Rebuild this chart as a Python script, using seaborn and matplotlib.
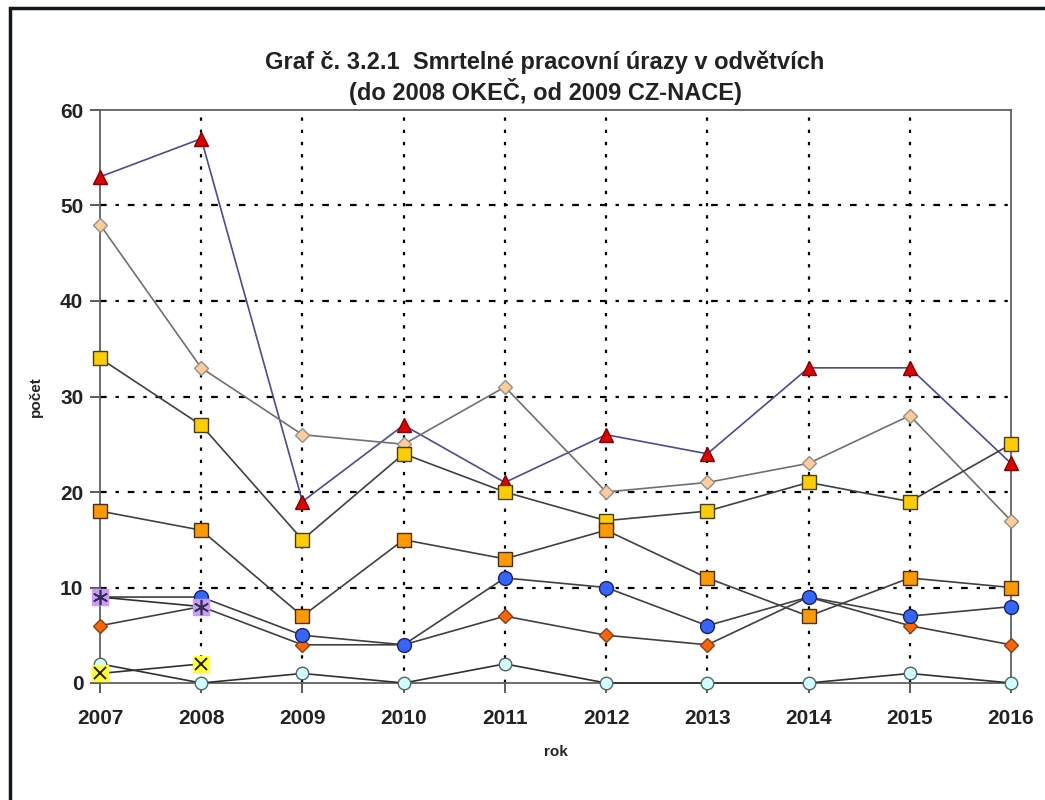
import matplotlib
matplotlib.use("Agg")
import matplotlib.pyplot as plt
import seaborn as sns
import pandas as pd
from matplotlib.patches import Rectangle

years = [2007, 2008, 2009, 2010, 2011, 2012, 2013, 2014, 2015, 2016]

red_triangle = [53, 57, 19, 27, 21, 26, 24, 33, 33, 23]
peach_diamond = [48, 33, 26, 25, 31, 20, 21, 23, 28, 17]
gold_square = [34, 27, 15, 24, 20, 17, 18, 21, 19, 25]
orange_square = [18, 16, 7, 15, 13, 16, 11, 7, 11, 10]
orange_diamond = [6, 8, 4, 4, 7, 5, 4, 9, 6, 4]
blue_circle = [9, 9, 5, 4, 11, 10, 6, 9, 7, 8]
cyan_circle = [2, 0, 1, 0, 2, 0, 0, 0, 1, 0]
purple_star_years = [2007, 2008]
purple_star = [9, 8]
yellow_x_years = [2007, 2008]
yellow_x = [1, 2]

y_ticks = [0, 10, 20, 30, 40, 50, 60]
title = "Graf č. 3.2.1  Smrtelné pracovní úrazy v odvětvích\n(do 2008 OKEČ, od 2009 CZ-NACE)"

sns.set_theme(style="white")
plt.rcParams['font.family'] = ['Liberation Sans', 'DejaVu Sans']

fig = plt.figure(figsize=(10.45, 8.0), dpi=100)
ax = fig.add_axes([100/1045, 1-683/800, (1011-100)/1045, (683-110)/800])

# outer frame
fig.patches.append(Rectangle((10/1045, -0.1), 1.2, 1-8/800+0.1, transform=fig.transFigure,
                             fill=False, edgecolor="#101820", linewidth=2.5, zorder=0))

# grid
for yv in y_ticks[1:-1]:
    ax.axhline(yv, color="black", lw=1.6, linestyle=(0, (3, 4, 1.5, 4)), zorder=1)
for xv in years[1:-1]:
    ax.axvline(xv, color="black", lw=1.6, linestyle=(0, (1.5, 4)), zorder=1)

def draw(xs, ys, line, face, edge, marker, ms, lw=1.2, z=3):
    df = pd.DataFrame({"x": xs, "y": ys})
    sns.lineplot(data=df, x="x", y="y", ax=ax, color=line, lw=lw, marker=marker,
                 markersize=ms, markerfacecolor=face, markeredgecolor=edge,
                 markeredgewidth=1.0, zorder=z, legend=False, clip_on=False)

draw(years, red_triangle, "#4a4a98", "#e00000", "#800000", "^", 10, lw=1.2, z=3)
draw(years, peach_diamond, "#707070", "#ffcc99", "#909090", "D", 7.5, z=3.1)
draw(years, gold_square, "#404040", "#ffcc00", "#404020", "s", 10, z=3.2)
draw(years, orange_square, "#404040", "#ff9900", "#403020", "s", 10, z=3.3)
draw(years, orange_diamond, "#404040", "#ff6600", "#804020", "D", 7.5, z=3.4)
draw(years, blue_circle, "#404040", "#3366ff", "#202060", "o", 10, z=3.5)
draw(purple_star_years, purple_star, "#303030", "#cc99ff", "#cc99ff", "s", 11, z=3.6)
ax.plot(purple_star_years, purple_star, linestyle="none", marker=(6, 2, 0), markersize=11,
        markeredgecolor="#303050", markeredgewidth=1.2, zorder=3.65, clip_on=False)
draw(years, cyan_circle, "#303030", "#ccffff", "#606060", "o", 9, z=3.7)
draw(yellow_x_years, yellow_x, "#303030", "#ffff33", "#ffff33", "s", 11, z=3.8)
ax.plot(yellow_x_years, yellow_x, linestyle="none", marker="x", markersize=9,
        markeredgecolor="#202020", markeredgewidth=1.4, zorder=3.85, clip_on=False)

ax.set_xlim(2007, 2016)
ax.set_ylim(0, 60)
ax.set_xticks(years)
ax.set_yticks(y_ticks)
ax.set_xticklabels([str(y) for y in years], fontsize=15, fontweight="bold", color="#222222")
ax.set_yticklabels([str(v) for v in y_ticks], fontsize=15, fontweight="bold", color="#222222")
ax.tick_params(axis="both", direction="out", length=7, width=1.2, color="#404040",
               bottom=True, left=True, pad=5)
ax.tick_params(axis="x", pad=12)
for sp in ax.spines.values():
    sp.set_visible(True)
    sp.set_color("#606060")
    sp.set_linewidth(1.3)
ax.set_facecolor("white")
ax.grid(False)

ax.set_xlabel("rok", fontsize=11, fontweight="bold", labelpad=12)
ax.set_ylabel("počet", fontsize=11, fontweight="bold", labelpad=12)
fig.text(545/1045, 1-78/800, title, ha="center", va="center", fontsize=17,
         fontweight="bold", color="#222222", linespacing=1.2)

fig.savefig("out.png", dpi=100, facecolor="white")
